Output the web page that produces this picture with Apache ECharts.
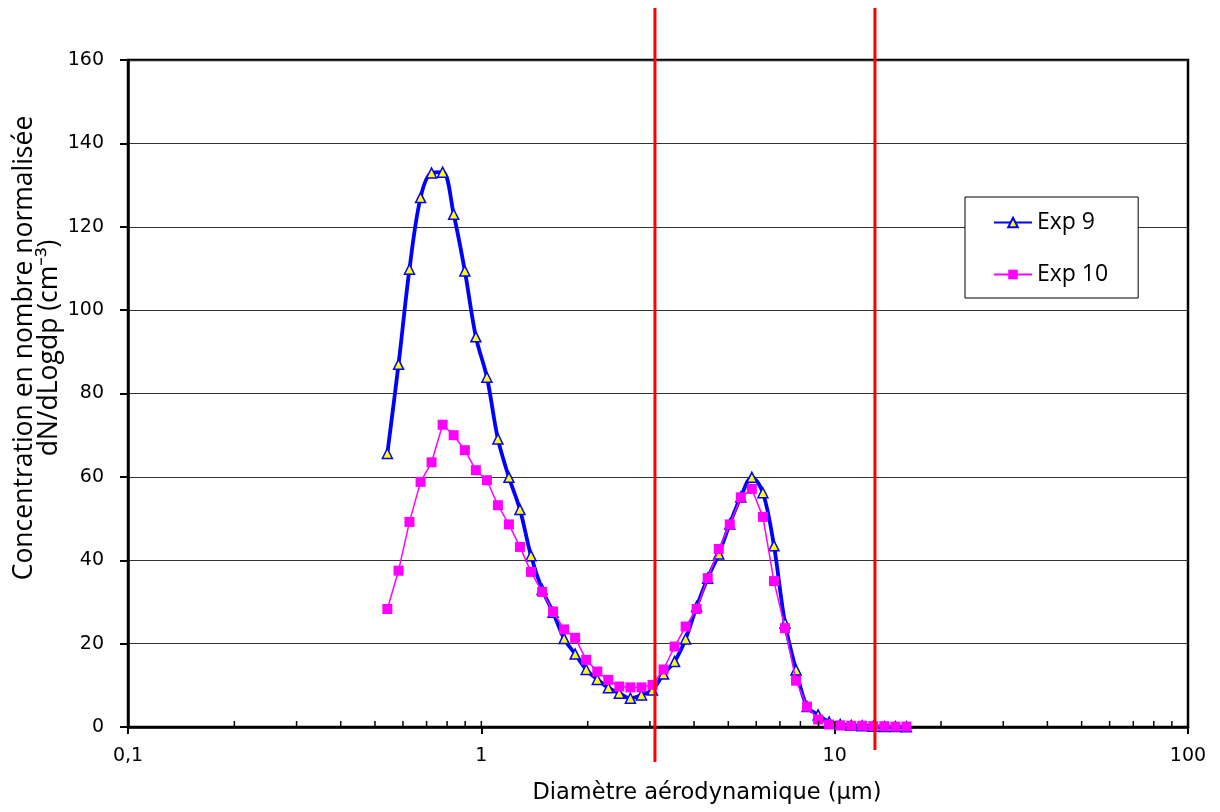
<!DOCTYPE html>
<html><head><meta charset="utf-8">
<script src="https://cdn.jsdelivr.net/npm/echarts@6/dist/echarts.min.js"></script>
<style>html,body{margin:0;padding:0;background:#fff}#c{width:1220px;height:812px}</style>
</head><body><div id="c"></div>
<script>
// Aerodynamic diameters (µm) – APS channel midpoints
const diameters = [0.542, 0.583, 0.626, 0.673, 0.723, 0.777, 0.835, 0.898, 0.965, 1.037, 1.114, 1.197, 1.286, 1.382, 1.486, 1.596, 1.715, 1.843, 1.981, 2.129, 2.288, 2.458, 2.642, 2.839, 3.051, 3.278, 3.523, 3.786, 4.068, 4.371, 4.698, 5.048, 5.425, 5.829, 6.264, 6.732, 7.234, 7.774, 8.354, 8.977, 9.647, 10.37, 11.14, 11.97, 12.86, 13.82, 14.86, 15.96];
const exp9 = [65.6, 87.0, 109.8, 127.0, 132.9, 133.1, 123.0, 109.4, 93.6, 83.9, 69.1, 59.9, 52.2, 41.1, 33.0, 27.5, 21.2, 17.5, 13.8, 11.4, 9.4, 8.1, 6.9, 7.7, 8.9, 12.7, 15.7, 21.1, 28.9, 35.7, 41.5, 48.7, 55.2, 59.9, 56.2, 43.5, 24.9, 13.7, 4.9, 2.9, 1.2, 0.6, 0.4, 0.3, 0.2, 0.1, 0.1, 0.05];
const exp10 = [28.3, 37.5, 49.2, 58.8, 63.5, 72.5, 70.0, 66.4, 61.6, 59.2, 53.2, 48.6, 43.2, 37.2, 32.4, 27.7, 23.4, 21.4, 16.1, 13.3, 11.3, 9.7, 9.5, 9.5, 10.1, 13.8, 19.3, 24.1, 28.3, 35.7, 42.7, 48.6, 55.1, 57.1, 50.4, 35.0, 23.7, 11.1, 4.9, 1.8, 0.6, 0.4, 0.3, 0.3, 0.2, 0.2, 0.1, 0.1];
const seriesNames = ['Exp 9', 'Exp 10'];
const cutoffs = [3.1, 13.0];
const minorTickValues = [0.2,0.3,0.4,0.5,0.6,0.7,0.8,0.9,1,2,3,4,5,6,7,8,9,10,20,30,40,50,60,70,80,90];
const xTickLabels = {0.1:'0,1', 1:'1', 10:'10', 100:'100'};

const chart = echarts.init(document.getElementById('c'), null, {renderer:'canvas'});
const zip = (xs, ys) => xs.map((x,i)=>[x, ys[i]]);
const cutBelow = [35, 23];

chart.setOption({
  animation: false,
  backgroundColor: '#fff',
  grid: {left:128, right:32, top:60, bottom:85, show:true, borderColor:'#000', borderWidth:2.5, backgroundColor:'transparent'},
  xAxis: {
    type:'log', logBase:10, min:0.1, max:100,
    axisLine:{show:true, onZero:false, lineStyle:{color:'#000', width:2.5}},
    axisTick:{show:true, inside:false, length:7, lineStyle:{color:'#000', width:2}},
    axisLabel:{color:'#000', fontSize:19, fontFamily:'DejaVu Sans', margin:20,
      formatter: v => xTickLabels[+v.toPrecision(3)] || String(v).replace('.', ',')},
    splitLine:{show:false},
    name:'Diamètre aérodynamique (µm)', nameLocation:'middle', nameGap:55,
    nameTextStyle:{color:'#000', fontSize:22.5, fontFamily:'DejaVu Sans', padding:[0,0,0,98]}
  },
  yAxis: {
    type:'value', min:0, max:160, interval:20,
    axisLine:{show:true, lineStyle:{color:'#000', width:2.5}},
    axisTick:{show:true, inside:false, length:8, lineStyle:{color:'#000', width:2}},
    axisLabel:{color:'#000', fontSize:19, fontFamily:'DejaVu Sans', margin:24},
    splitLine:{show:true, lineStyle:{color:'#333', width:1}}
  },
  legend: {
    data: seriesNames, orient:'vertical', left:965, top:197,
    backgroundColor:'#fff', borderColor:'#000', borderWidth:1, borderRadius:0,
    padding:[14, 30, 12, 28], itemGap:29, itemWidth:38, itemHeight:12,
    textStyle:{color:'#000', fontSize:23, fontFamily:'Open Sans'}
  },
  graphic: [{
    type:'text', x:37, y:348, rotation:Math.PI/2,
    style:{text:'Concentration en nombre normalisée\ndN/dLogdp (cm⁻³)', textAlign:'center', textVerticalAlign:'middle',
      fontSize:26.5, fontFamily:'Open Sans', lineHeight:25, fill:'#000'}
  }],
  series: [
    {
      name: seriesNames[0], type:'line', data: zip(diameters, exp9), smooth:0.35,
      symbol:'triangle', symbolSize:10,
      lineStyle:{color:'#0000ff', width:3.8},
      itemStyle:{color:'#ffff00', borderColor:'#0000ff', borderWidth:1.5},
      z:3
    },
    {
      name: seriesNames[1], type:'line', data: zip(diameters, exp10), smooth:false,
      symbol:'rect', symbolSize:10,
      lineStyle:{color:'#ff00ff', width:1.5},
      itemStyle:{color:'#ff00ff', borderColor:'#ff00ff', borderWidth:0},
      z:4
    },
    {
      type:'custom', data: minorTickValues.map(v=>[v,0]), silent:true, clip:false, z:6,
      renderItem: (params, api) => {
        const p = api.coord([api.value(0), 0]);
        return {type:'line', shape:{x1:p[0], y1:p[1], x2:p[0], y2:p[1]-6}, style:{stroke:'#000', lineWidth:1.5}};
      }
    },
    {
      type:'custom', data: cutoffs.map(v=>[v,0]), silent:true, clip:false, z:10,
      renderItem: (params, api) => {
        const top = api.coord([api.value(0), 160]);
        const bot = api.coord([api.value(0), 0]);
        return {type:'line', shape:{x1:top[0], y1:top[1]-52, x2:bot[0], y2:bot[1]+cutBelow[params.dataIndex]},
          style:{stroke:'#ff0000', lineWidth:3}};
      }
    }
  ]
});
</script></body></html>
